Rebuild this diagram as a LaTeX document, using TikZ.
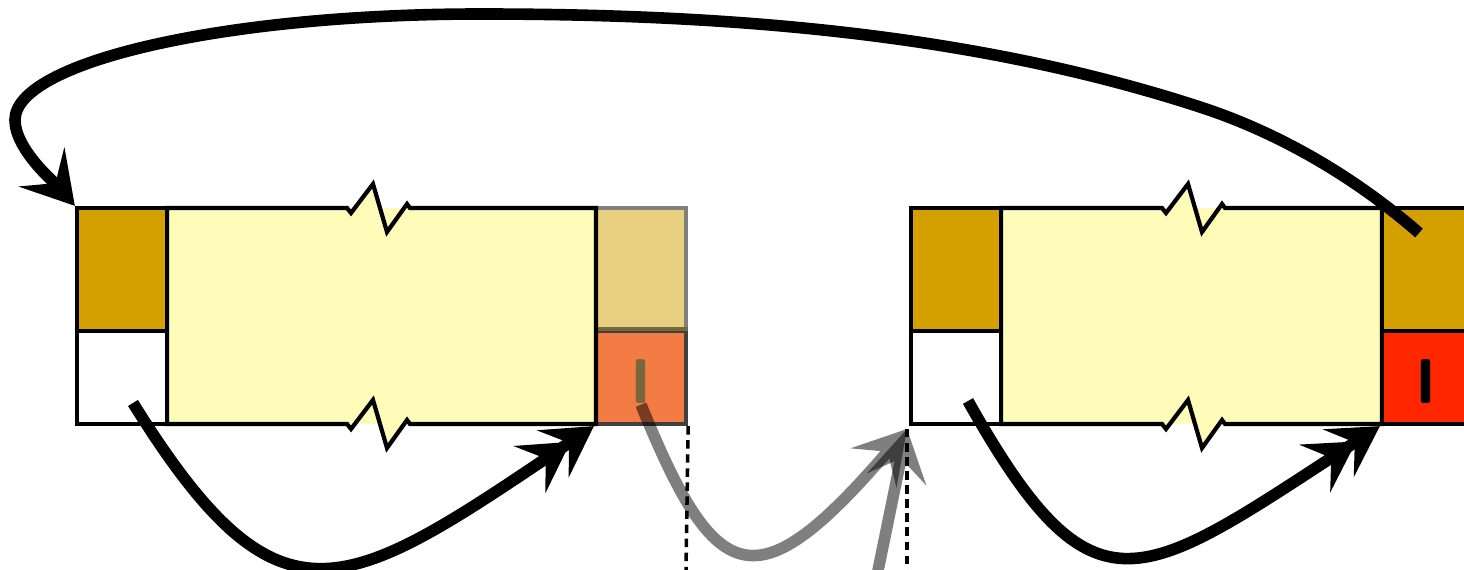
\documentclass[tikz,border=0pt]{standalone}
\usepackage{fontspec}
\usetikzlibrary{arrows.meta}
\definecolor{tanhead}{HTML}{D4A000}
\definecolor{tanghost}{HTML}{E9D081}
\definecolor{bodyyellow}{HTML}{FFFBB9}
\definecolor{markred}{HTML}{FF2600}
\definecolor{markghost}{HTML}{F27C44}
\definecolor{inkolive}{HTML}{76683C}
\tikzset{
  cell/.style={draw,line width=1.2pt,inner sep=0pt,minimum width=0.9cm},
  head/.style={cell,fill=tanhead,minimum height=1.23cm},
  foot/.style={cell,fill=white,minimum height=0.93cm},
  bar/.style={inner sep=0pt,font=\fontsize{18}{18}\selectfont\sffamily\bfseries},
  link/.style={line width=3.3pt,-{Stealth[length=14.5pt,width=17pt,inset=6pt]}},
  dlink/.style={line width=3.3pt,-{Stealth[length=14pt,width=16pt,inset=5.5pt,sep=-6pt]Stealth[length=14pt,width=16pt,inset=5.5pt]}},
  guide/.style={line width=1pt,dash pattern=on 2.4pt off 1.6pt}
}
% yellow body with break marks: left x, right x, x of break
\newcommand\brokenbody[3]{%
  \fill[bodyyellow](#1,208)rectangle(#2,424);
  \fill[bodyyellow](#3,208)--++(4,5)--++(22,-29)--++(14,48)--cycle;
  \fill[bodyyellow](#3+26,400)--++(14,47)--++(20,-28)--cycle;
  \draw[line width=1.2pt](#1,208)--(#3,208)--++(4,5)--++(22,-29)--++(14,48)--++(20,-28)--++(3,4)--(#2,208)
    --(#2,424)--(#3+63,424)--++(-3,-4)--++(-20,28)--++(-14,-48)--++(-22,29)--++(-4,-5)--(#1,424)--cycle;}
\begin{document}
\begin{tikzpicture}[x=0.01cm,y=-0.01cm]
  \useasboundingbox(0,0)rectangle(1464,570);
  \clip(0,0)rectangle(1464,570);
  % first block, with the ghost cells after it
  \node[cell,draw=black!50,fill=tanghost,minimum height=1.23cm](g1)at(641,269.5){};
  \node[cell,draw=black!75,fill=markghost,minimum height=0.93cm](o1)at(641,377.5){};
  \draw[line width=1.2pt,inkolive](o1.north west)--(o1.north east);
  \node[bar,text=inkolive](i1)at(641,382){I};
  \brokenbody{167}{596}{347}
  \node[head](h1)at(122,269.5){};
  \node[foot](f1)at(122,377.5){};
  % second block
  \brokenbody{1001}{1382}{1162}
  \node[head](h2)at(956,269.5){};
  \node[foot](f2)at(956,377.5){};
  \node[head](h3)at(1427,269.5){};
  \node[cell,fill=markred,minimum height=0.93cm](r3)at(1427,377.5){};
  \node[bar](i3)at(1426,382){I};
  % guides
  \coordinate(d2)at(907,429);
  \draw[guide](o1.south east)--(686,570);
  \draw[guide](d2)--(907,570);
  % links
  \coordinate(s1)at(133,403);
  \coordinate(s2)at(968,401);
  \coordinate(s3)at(1419,233);
  \coordinate(g0)at(874,590);
  \draw[dlink](s1)..controls(281,641)and(345,594)..(o1.south west);
  \draw[dlink](s2)..controls(1095,627)and(1140,582)..(r3.south west);
  \draw[link](s3)..controls(1356,178)and(1280,133)..(1200,107)..controls(970,32)and(722,14)..(480,14)
    ..controls(224,14)and(15,62)..(15,120)..controls(15,150)and(57,185)..(h1.north west);
  \begin{scope}[transparency group,opacity=.5]
    \draw[link](i1.south)..controls(716,589)and(756,605)..(d2);
  \end{scope}
  \begin{scope}[transparency group,opacity=.5]
    \draw[link](g0)--(d2);
  \end{scope}
\end{tikzpicture}
\end{document}
